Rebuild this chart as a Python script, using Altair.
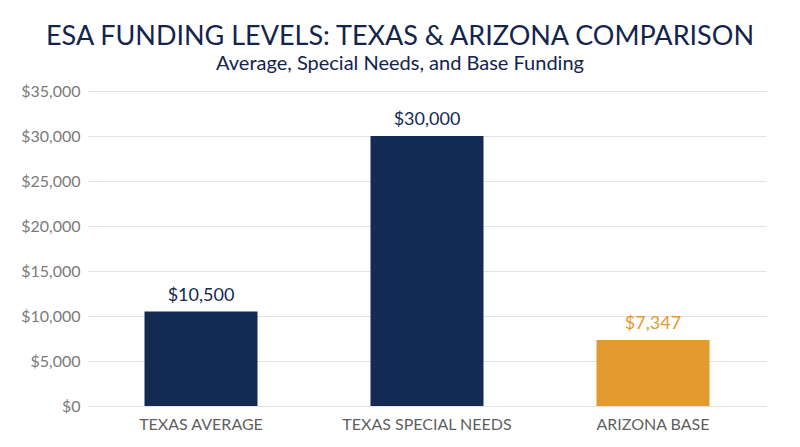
import altair as alt
import pandas as pd

categories = ["TEXAS AVERAGE", "TEXAS SPECIAL NEEDS", "ARIZONA BASE"]
values = [10500, 30000, 7347]
groups = ["Texas", "Texas", "Arizona"]
labels = ["$10,500", "$30,000", "$7,347"]

df = pd.DataFrame({"category": categories, "value": values, "group": groups, "label": labels})

FONT = "Lato"
NAVY = "#132a52"
GOLD = "#e2992d"

color_scale = alt.Scale(domain=["Texas", "Arizona"], range=[NAVY, GOLD])
text_scale = alt.Scale(domain=["Texas", "Arizona"], range=["#12264f", "#d4982b"])

x = alt.X("category:N", sort=categories, title=None,
          scale=alt.Scale(paddingInner=0.5, paddingOuter=0.25),
          axis=alt.Axis(labelAngle=0, labelFont=FONT, labelFontSize=16, labelColor="#5f5f5f",
                        labelPadding=10, labelLimit=400, ticks=False, domain=False))
y = alt.Y("value:Q", title=None,
          scale=alt.Scale(domain=[0, 35000]),
          axis=alt.Axis(values=list(range(0, 35001, 5000)), format="$,.0f",
                        labelFont=FONT, labelFontSize=16, labelColor="#7a7a7a",
                        labelPadding=8, ticks=False, domain=False,
                        gridColor="#e4e4e4", gridWidth=1))

bars = alt.Chart(df).mark_bar().encode(
    x=x, y=y,
    color=alt.Color("group:N", scale=color_scale, legend=None),
)
text = alt.Chart(df).mark_text(baseline="bottom", dy=-7, font=FONT, fontSize=18).encode(
    x=alt.X("category:N", sort=categories),
    y="value:Q",
    text="label:N",
    color=alt.Color("group:N", scale=text_scale, legend=None),
)

chart = (bars + text).properties(
    width=678, height=315,
    background="white",
    autosize=alt.AutoSizeParams(type="none"),
    padding={"left": 80, "top": 83, "right": 18, "bottom": 33},
    title=alt.TitleParams(
        text="ESA FUNDING LEVELS: TEXAS & ARIZONA COMPARISON",
        subtitle="Average, Special Needs, and Base Funding",
        anchor="middle", dx=-27, offset=8,
        font=FONT, fontSize=27, fontWeight="normal", color="#13244d",
        subtitleFont=FONT, subtitleFontSize=20, subtitleColor="#13244d", subtitlePadding=3,
    ),
).configure_view(strokeWidth=0)

chart.save("out.html", embed_options={"renderer": "svg", "actions": False})
